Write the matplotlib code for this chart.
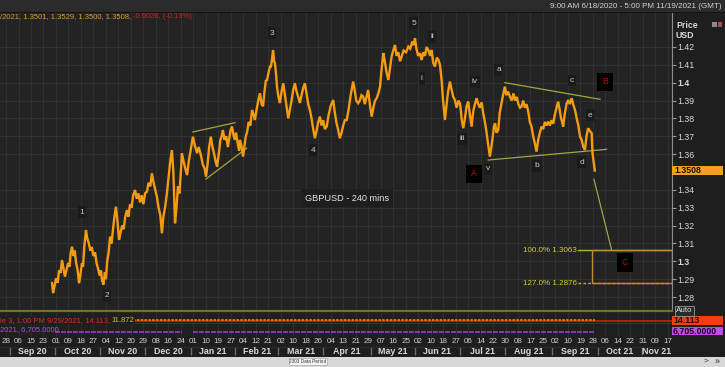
import matplotlib
matplotlib.use("Agg")
import matplotlib.pyplot as plt
import matplotlib.transforms as mtransforms
from matplotlib.patches import Rectangle

plt.rcParams["font.family"] = ["Liberation Sans Narrow", "Liberation Sans", "DejaVu Sans"]

# ---- data (x = trading days counted from Fri 28 Aug 2020, 6 days per axis tick) ----
days = [22.1, 22.6, 23.3, 24.0, 24.8, 25.5, 26.2, 26.9, 27.6, 28.3, 29.0, 29.8, 30.5, 31.0, 31.7,
        32.4, 33.0, 33.7, 34.4, 35.1, 35.8, 36.5, 37.0, 37.6, 38.4, 39.0, 39.8, 40.5, 41.2, 42.0,
        42.8, 43.5, 44.2, 45.0, 45.6, 46.1, 46.8, 47.5, 48.0, 48.6, 49.3, 50.0, 50.7, 51.4, 52.1,
        52.8, 53.5, 54.3, 55.0, 55.8, 56.5, 57.3, 58.1, 58.8, 59.6, 60.3, 61.1, 62.0, 62.8, 63.6,
        64.4, 65.2, 66.0, 66.8, 67.7, 68.5, 69.3, 70.1, 70.9, 71.7, 72.5, 73.3, 74.1, 74.9, 75.6,
        76.4, 77.3, 78.0, 78.8, 79.7, 80.4, 81.2, 81.9, 82.6, 83.3, 84.0, 84.5, 85.3, 86.1, 87.0,
        87.8, 88.7, 89.8, 90.7, 91.8, 92.6, 93.7, 94.6, 95.4, 96.1, 96.9, 97.6, 98.4, 99.2, 100.0,
        100.7, 101.4, 102.2, 103.0, 103.6, 104.2, 105.0, 105.8, 106.6, 107.4, 108.0, 108.6, 109.4,
        110.0, 110.5, 111.3, 112.0, 112.4, 113.2, 113.9, 114.6, 115.2, 115.8, 116.6, 117.4, 118.2,
        119.0, 119.6, 120.4, 121.2, 122.0, 122.8, 123.5, 124.2, 124.8, 125.4, 126.2, 126.8, 127.3,
        127.8, 128.3, 128.8, 129.2, 129.8, 130.2, 130.9, 131.6, 132.4, 133.2, 134.0, 134.8, 135.6,
        136.4, 137.2, 138.0, 138.8, 139.6, 140.4, 141.2, 142.0, 142.8, 143.6, 144.4, 145.2, 146.0,
        146.8, 147.6, 148.4, 149.2, 150.0, 150.8, 151.6, 152.4, 153.2, 154.1, 155.0, 156.0, 157.2,
        157.9, 158.7, 159.6, 160.4, 161.2, 162.0, 162.8, 163.7, 164.6, 165.6, 166.8, 167.5, 168.3,
        169.2, 170.0, 170.8, 171.6, 172.4, 173.2, 174.0, 174.8, 175.7, 176.5, 177.3, 178.1, 178.9,
        179.7, 180.5, 181.3, 182.0, 182.8, 183.7, 184.5, 185.3, 186.1, 186.9, 187.7, 188.5, 189.3,
        190.1, 191.0, 192.2, 193.3, 194.2, 195.2, 195.9, 196.5, 197.2, 198.0, 198.9, 199.7, 200.5,
        201.3, 202.1, 203.0, 203.8, 204.5, 205.3, 206.1, 207.0, 207.8, 208.5, 209.3, 210.0, 210.9,
        211.6, 212.4, 213.3, 214.1, 214.9, 215.7, 216.5, 217.4, 218.2, 219.0, 219.7, 220.5, 221.3,
        222.1, 222.9, 223.7, 224.5, 225.3, 226.1, 226.9, 227.7, 228.5, 229.3, 230.1, 230.9, 231.7,
        232.5, 233.2, 233.9, 234.5, 235.0, 235.7, 236.5, 237.2, 238.0, 238.8, 239.7, 240.4, 241.2,
        242.1, 243.0, 243.8, 244.6, 245.4, 246.2, 247.0, 247.7, 248.5, 249.3, 250.1, 250.9, 251.7,
        252.5, 253.3, 254.1, 254.9, 255.7, 256.5, 257.3, 258.1, 258.9, 259.7, 260.5, 261.3, 262.1,
        262.9, 263.7, 264.5, 265.3, 266.0, 266.7, 267.2, 267.7, 268.4, 269.3, 270.1, 270.9, 271.8,
        272.5, 273.4, 274.2, 275.0, 275.8, 276.6, 277.4, 278.2, 278.9, 279.7, 280.5, 281.4, 281.8,
        282.3, 282.9]
close = [1.2879, 1.2822, 1.2860, 1.2905, 1.2880, 1.2950, 1.2935, 1.3007, 1.2960, 1.2914, 1.2950,
         1.2990, 1.2970, 1.3040, 1.3082, 1.3030, 1.3060, 1.2990, 1.2950, 1.2877, 1.2930, 1.2990,
         1.2970, 1.3080, 1.3175, 1.3130, 1.3100, 1.3060, 1.3080, 1.3030, 1.3050, 1.2990, 1.2960,
         1.2920, 1.2950, 1.2895, 1.2870, 1.2940, 1.2900, 1.3000, 1.3050, 1.3138, 1.3100, 1.3180,
         1.3250, 1.3306, 1.3230, 1.3120, 1.3160, 1.3200, 1.3180, 1.3250, 1.3287, 1.3250, 1.3320,
         1.3300, 1.3370, 1.3399, 1.3350, 1.3380, 1.3330, 1.3370, 1.3320, 1.3380, 1.3390, 1.3440,
         1.3420, 1.3493, 1.3440, 1.3400, 1.3360, 1.3300, 1.3260, 1.3157, 1.3250, 1.3300, 1.3380,
         1.3460, 1.3550, 1.3623, 1.3500, 1.3213, 1.3300, 1.3420, 1.3380, 1.3500, 1.3605, 1.3560,
         1.3520, 1.3483, 1.3560, 1.3620, 1.3698, 1.3650, 1.3605, 1.3640, 1.3590, 1.3540, 1.3520,
         1.3474, 1.3550, 1.3640, 1.3698, 1.3640, 1.3600, 1.3560, 1.3530, 1.3600, 1.3680, 1.3700,
         1.3735, 1.3680, 1.3700, 1.3640, 1.3700, 1.3740, 1.3754, 1.3700, 1.3680, 1.3720, 1.3660,
         1.3620, 1.3680, 1.3640, 1.3586, 1.3650, 1.3700, 1.3721, 1.3780, 1.3760, 1.3847, 1.3820,
         1.3791, 1.3850, 1.3900, 1.3941, 1.3880, 1.3868, 1.3950, 1.4010, 1.4015, 1.4060, 1.4090,
         1.4090, 1.4130, 1.4183, 1.4120, 1.4110, 1.4040, 1.3978, 1.3920, 1.3886, 1.3950, 1.3997,
         1.3930, 1.3866, 1.3800, 1.3850, 1.3900, 1.3960, 1.3997, 1.3950, 1.3920, 1.3886, 1.3930,
         1.3970, 1.3997, 1.3940, 1.3880, 1.3847, 1.3800, 1.3740, 1.3689, 1.3730, 1.3780, 1.3810,
         1.3760, 1.3790, 1.3740, 1.3754, 1.3820, 1.3870, 1.3903, 1.3840, 1.3780, 1.3735, 1.3689,
         1.3720, 1.3760, 1.3790, 1.3791, 1.3850, 1.3930, 1.4006, 1.3960, 1.3900, 1.3885, 1.3900,
         1.3930, 1.3922, 1.3880, 1.3920, 1.3959, 1.3880, 1.3810, 1.3860, 1.3900, 1.3913, 1.3940,
         1.3978, 1.4080, 1.4165, 1.4120, 1.4060, 1.4015, 1.4080, 1.4150, 1.4180, 1.4211, 1.4150,
         1.4170, 1.4120, 1.4146, 1.4180, 1.4170, 1.4202, 1.4190, 1.4230, 1.4210, 1.4249, 1.4190,
         1.4150, 1.4165, 1.4127, 1.4170, 1.4150, 1.4200, 1.4180, 1.4150, 1.4183, 1.4109, 1.4090,
         1.4140, 1.4127, 1.4100, 1.4015, 1.3900, 1.3791, 1.3870, 1.3950, 1.4006, 1.3960, 1.3920,
         1.3903, 1.3860, 1.3900, 1.3880, 1.3790, 1.3745, 1.3800, 1.3870, 1.3894, 1.3820, 1.3754,
         1.3840, 1.3880, 1.3913, 1.3880, 1.3860, 1.3890, 1.3829, 1.3780, 1.3720, 1.3650, 1.3586,
         1.3640, 1.3700, 1.3760, 1.3773, 1.3720, 1.3735, 1.3830, 1.3880, 1.3930, 1.3978, 1.3930,
         1.3950, 1.3922, 1.3900, 1.3940, 1.3900, 1.3920, 1.3880, 1.3860, 1.3866, 1.3900, 1.3860,
         1.3880, 1.3840, 1.3780, 1.3754, 1.3700, 1.3660, 1.3614, 1.3680, 1.3720, 1.3754, 1.3740,
         1.3780, 1.3760, 1.3782, 1.3760, 1.3790, 1.3770, 1.3820, 1.3860, 1.3894, 1.3850, 1.3800,
         1.3780, 1.3754, 1.3820, 1.3880, 1.3903, 1.3880, 1.3913, 1.3880, 1.3847, 1.3800, 1.3760,
         1.3698, 1.3680, 1.3640, 1.3623, 1.3700, 1.3745, 1.3730, 1.3717, 1.3605, 1.3560, 1.3508]

last_price = 1.3508
price_ticks = [1.42, 1.41, 1.40, 1.39, 1.38, 1.37, 1.36, 1.34, 1.33, 1.32, 1.31, 1.30, 1.29, 1.28]
tick_labels = ["28", "06", "15", "23", "01", "09", "18", "27", "04", "12", "20", "29", "08", "16",
               "24", "01", "10", "19", "27", "04", "12", "21", "02", "10", "18", "26", "04", "13",
               "21", "29", "07", "16", "25", "02", "10", "18", "27", "06", "14", "22", "30", "08",
               "17", "25", "02", "10", "19", "28", "06", "14", "22", "31", "09", "17"]
tick_days = [6 * k for k in range(len(tick_labels))]
month_labels = ["Sep 20", "Oct 20", "Nov 20", "Dec 20", "Jan 21", "Feb 21", "Mar 21", "Apr 21",
                "May 21", "Jun 21", "Jul 21", "Aug 21", "Sep 21", "Oct 21", "Nov 21"]
month_starts = [1.9, 23.5, 45.2, 66.8, 88.8, 110.0, 130.8, 152.4, 175.3, 196.5, 218.1, 239.7,
                262.2, 284.5, 305.4]
x_end = 320.0

# trend lines (day, price) pairs
wedge_upper = ([89.8, 110.0], [1.3724, 1.3776])
wedge_lower = ([96.1, 115.6], [1.3461, 1.3633])
tri_upper = ([239.7, 285.4], [1.4000, 1.3907])
tri_lower = ([231.7, 288.6], [1.3567, 1.3627])
projection = ([282.5, 291.0], [1.3459, 1.3063])
fib_start = 274.9
fib_levels = [1.3063, 1.2876]
fib_texts = ["100.0% 1.3063", "127.0% 1.2876"]
box_left = 281.7

wave_labels = ["1", "2", "3", "4", "5", "i", "ii", "iii", "iv", "v", "a", "b", "c", "d", "e"]
wave_days = [36.5, 48.5, 127.8, 147.5, 196.0, 199.8, 204.7, 219.1, 225.3, 231.5, 236.8, 255.1,
             271.9, 276.7, 280.6]
wave_prices = [1.3276, 1.2806, 1.4278, 1.3623, 1.4334, 1.4026, 1.4256, 1.3685, 1.4004, 1.3517,
               1.4071, 1.3534, 1.4010, 1.3556, 1.3819]
abc_labels = ["A", "B", "C"]
abc_days = [224.8, 287.8, 297.4]
abc_prices = [1.3489, 1.4004, 1.2992]

# sub panels (flat indicator / volume rows)
ind_span = [61.0, x_end]
ind_noise_span = [61.0, 283.0]
vol_segments = [(23.5, 84.5), (89.8, 283.0)]

# ---- layout helpers (pixels -> figure fraction) ----
W, H = 725, 367
def fx(px): return px / W
def fy(py): return 1 - py / H

fig = plt.figure(figsize=(W / 100, H / 100), dpi=100, facecolor="#1e1e1e")
renderer = fig.canvas.get_renderer()

def frect(x0, y0, x1, y1, **kw):
    fig.patches.append(Rectangle((fx(x0), fy(y1)), fx(x1) - fx(x0), fy(y0) - fy(y1),
                                 transform=fig.transFigure, **kw))

def chain_text(x_px, y_px, parts, **kw):
    # write coloured pieces one after another on a single row
    for txt, col in parts:
        t = fig.text(fx(x_px), fy(y_px), txt, color=col, ha="left", va="center", **kw)
        x_px += t.get_window_extent(renderer).width + 1.5

# top bar
frect(0, 0, 725, 12, fc="#2b2b2b", ec="none")
frect(0, 12, 725, 13, fc="#141414", ec="none")
fig.text(fx(722), fy(6.5), "9:00 AM 6/18/2020 - 5:00 PM 11/19/2021 (GMT)", ha="right",
         va="center", fontsize=5.8, color="#d4d4d4")

# ---- main price panel ----
ax = fig.add_axes([0, fy(311), fx(672), (311 - 13) / H])
ax.set_facecolor("#232323")
ax.set_xlim(-2.9, x_end)
ax.set_ylim(1.2722, 1.4390)
ax.set_xticks(tick_days)
ax.set_yticks(price_ticks, [f"{p:g}" for p in price_ticks])
ax.yaxis.tick_right()
ax.tick_params(axis="x", length=0, labelbottom=False)
ax.tick_params(axis="y", direction="out", length=3, width=0.8, color="#9a9a9a",
               labelsize=6.3, labelcolor="#d8d8d8", pad=1)
for lab in ax.get_yticklabels():
    if lab.get_text() in ("1.4", "1.3"):
        lab.set_fontweight("bold")
ax.grid(True, color="#303030", lw=0.8)
ax.set_axisbelow(True)
for s in ("left", "top"):
    ax.spines[s].set_visible(False)
ax.spines["right"].set_color("#8c8c8c")
ax.spines["bottom"].set_color("#75751f")
ax.spines["bottom"].set_linewidth(1.6)

ax.plot(days, close, color="#f39c12", lw=1.7, zorder=4, solid_joinstyle="miter")

for xs, ys in (wedge_upper, wedge_lower, tri_upper, tri_lower, projection):
    ax.plot(xs, ys, color="#a6a63a", lw=0.9, zorder=3)

ax.plot([fib_start, x_end], [fib_levels[0]] * 2, color="#b8b232", lw=1.0, zorder=3)
ax.plot([fib_start, x_end], [fib_levels[1]] * 2, color="#b8b232", lw=1.0, ls=(0, (2, 1.5)), zorder=3)
ax.add_patch(Rectangle((box_left, fib_levels[1]), x_end - box_left, fib_levels[0] - fib_levels[1],
                       fill=False, ec="#c28a2a", lw=1.0, zorder=3))
for lvl, txt in zip(fib_levels, fib_texts):
    ax.text(fib_start - 0.5, lvl, txt, ha="right", va="center", fontsize=5.8, color="#cccc3a")

for lab, d, p in zip(wave_labels, wave_days, wave_prices):
    ax.text(d, p, lab, ha="center", va="center", fontsize=6, color="#c8c8c8",
            bbox=dict(fc="#1b1b1b", ec="none", pad=1.5), zorder=5)
for lab, d, p in zip(abc_labels, abc_days, abc_prices):
    ax.text(d, p, lab, ha="center", va="center", fontsize=6.3, color="#c80000",
            bbox=dict(fc="#000000", ec="none", boxstyle="square,pad=0.55"), zorder=5)

ax.text(163.8, 1.3354, "GBPUSD - 240 mins", ha="center", va="center", fontsize=6.6,
        family=["Liberation Sans", "DejaVu Sans"], color="#e6e6e6",
        bbox=dict(fc="#1e1e1e", ec="none", pad=3))

# last price tag on the right axis
blend = mtransforms.blended_transform_factory(ax.transAxes, ax.transData)
ax.add_patch(Rectangle((1.0, last_price - 0.0024), 51 / 672, 0.0048, transform=blend,
                       fc="#f5a01e", ec="none", clip_on=False, zorder=6))
ax.text(1.003, last_price, f"{last_price:.4f}", transform=blend, ha="left", va="center",
        fontsize=6.3, fontweight="bold", color="#111111", clip_on=False, zorder=7)

# header line
chain_text(0, 16.5, [("/2021, 1.3501, 1.3529, 1.3500, 1.3508,", "#e39a2a"),
                     ("-0.0026, (-0.19%)", "#cc2222")], fontsize=5.5)
fig.text(fx(676), fy(26), "Price", fontsize=6.3, fontweight="bold", color="#d8d8d8", va="center")
fig.text(fx(676), fy(35), "USD", fontsize=6.3, fontweight="bold", color="#d8d8d8", va="center")
frect(712, 22, 716.5, 26.5, fc="#8a8a8a", ec="none")
frect(717.5, 22, 722, 26.5, fc="#a05050", ec="none")
fig.text(fx(676), fy(311), "Auto", fontsize=5.8, color="#e0e0e0", va="center",
         bbox=dict(fc="#2a2a2a", ec="#9a9a9a", lw=0.6, pad=0.8))

# ---- indicator / volume sub panel ----
axs = fig.add_axes([0, fy(337), fx(672), (337 - 312.5) / H])
axs.set_facecolor("#1f1f1f")
axs.set_xlim(-2.9, x_end)
axs.set_ylim(0, 1)
axs.set_xticks(tick_days)
axs.set_yticks([])
axs.tick_params(axis="x", length=0, labelbottom=False)
axs.grid(True, axis="x", color="#2c2c2c", lw=0.8)
for s in axs.spines.values():
    s.set_visible(False)
axs.axhline(0.56, color="#3a3a3a", lw=0.6)
axs.plot(ind_span, [0.66, 0.66], color="#b8200c", lw=1.4)
axs.plot(ind_noise_span, [0.68, 0.68], color="#ff7a10", lw=1.2, ls=(0, (1.5, 0.8)))
for a, b in vol_segments:
    axs.plot([a, b], [0.19, 0.19], color="#9d38c8", lw=1.2, ls=(0, (3, 0.6)))

chain_text(0, 320.5, [("le 3, 1:00 PM 9/29/2021, 14.113,", "#d8301c"), ("11.872", "#c8c828")],
           fontsize=5.5, bbox=dict(fc="#1f1f1f", ec="none", pad=0.3))
fig.text(0, fy(329.5), "2021, 6,705.0000", fontsize=5.5, color="#b448e6", va="center")
frect(672, 316, 723, 324.5, fc="#f23c12", ec="none")
fig.text(fx(673), fy(320.5), "14.113", fontsize=6.3, fontweight="bold", color="#2a0800", va="center")
frect(672, 326.5, 723, 335, fc="#c24ae6", ec="none")
fig.text(fx(673), fy(331), "6,705.0000", fontsize=6.3, fontweight="bold", color="#1e0028", va="center")

# ---- date axis ----
axd = fig.add_axes([0, fy(356), fx(672), (356 - 337) / H])
axd.set_facecolor("#1d1d1d")
axd.set_xlim(-2.9, x_end)
axd.set_ylim(0, 1)
axd.axis("off")
for d, lab in zip(tick_days, tick_labels):
    axd.text(d, 0.76, lab, ha="center", va="center", fontsize=5.8, color="#d0d0d0")
bounds = month_starts + [x_end]
for k, lab in enumerate(month_labels):
    axd.text((bounds[k] + bounds[k + 1]) / 2, 0.25, lab, ha="center", va="center",
             fontsize=6.4, fontweight="bold", color="#d8d8d8")
axd.vlines(month_starts, 0.05, 0.5, color="#6a6a6a", lw=1)
axd.axhline(0.5, color="#2e2e2e", lw=0.6)

# ---- bottom scroll strip ----
frect(0, 356.5, 725, 367, fc="#d8d8d8", ec="none")
fig.text(fx(308), fy(361.5), "2303 Data Period", fontsize=3.4, color="#333333", ha="center",
         va="center", bbox=dict(fc="#f4f4f4", ec="#9a9a9a", lw=0.4, pad=0.6))
fig.text(fx(706), fy(361.5), ">", fontsize=6, color="#333333", ha="center", va="center")
fig.text(fx(717), fy(361.5), "\u00bb", fontsize=6.5, color="#333333", ha="center", va="center")

fig.savefig("out.png", dpi=100, facecolor=fig.get_facecolor())
